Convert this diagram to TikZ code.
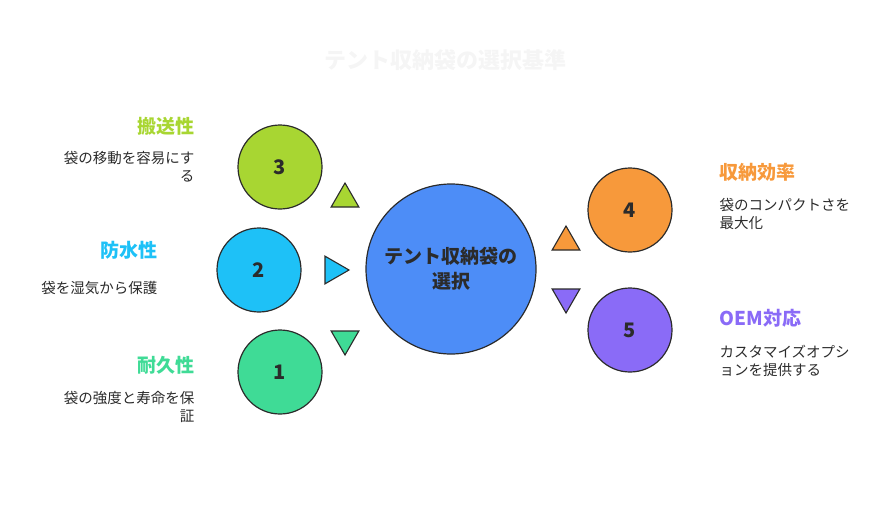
\documentclass[tikz,border=0pt]{standalone}
\usepackage{fontspec}
\setmainfont{Noto Sans CJK JP}
\usetikzlibrary{shapes.geometric}
\definecolor{cYel}{HTML}{A8D632}
\definecolor{cCya}{HTML}{1EC1F7}
\definecolor{cGrn}{HTML}{3FDB96}
\definecolor{cOra}{HTML}{F7993B}
\definecolor{cPur}{HTML}{8A6BF7}
\definecolor{cBlu}{HTML}{4D8DF7}
\definecolor{cInk}{HTML}{2B2B2B}
\tikzset{
  ball/.style={circle, draw=cInk, line width=1.2pt, minimum size=84pt, inner sep=0pt, font=\bfseries\fontsize{20}{20}\selectfont, text=cInk},
  tri/.style={regular polygon, regular polygon sides=3, draw=cInk, line width=1.1pt, minimum size=32pt, inner sep=0pt},
  head/.style={font=\bfseries\fontsize{19}{21}\selectfont},
  desc/.style={font=\fontsize{14.5}{18}\selectfont, text=cInk, align=left},
}
\begin{document}
\begin{tikzpicture}[x=1pt,y=-1pt]
\useasboundingbox (0,0) rectangle (890,530);
\node[font=\bfseries\fontsize{22}{22}\selectfont, text=black!4] (title) at (445,60) {テント収納袋の選択基準};
% circles
\node[ball, fill=cBlu, minimum size=170pt, font=\bfseries\fontsize{19}{25}\selectfont, align=center] (hub) at (451,269) {テント収納袋の\\選択};
\node[ball, fill=cYel] (c3) at (280,167) {3};
\node[ball, fill=cCya] (c2) at (259,270) {2};
\node[ball, fill=cGrn] (c1) at (280,372) {1};
\node[ball, fill=cOra] (c4) at (630,210) {4};
\node[ball, fill=cPur] (c5) at (630,330) {5};
% arrows
\node[tri, fill=cYel] (t3) at (345,199) {};
\node[tri, fill=cCya, shape border rotate=-90] (t2) at (333,270) {};
\node[tri, fill=cGrn, shape border rotate=180] (t1) at (345,339) {};
\node[tri, fill=cOra] (t4) at (566,242) {};
\node[tri, fill=cPur, shape border rotate=180] (t5) at (566,297) {};
% left labels
\node[head, text=cYel, anchor=east] (h3) at (198,126) {搬送性};
\node[desc, anchor=north east] (d3) at (198,148) {袋の移動を容易にす\\\hfill る};
\node[head, text=cCya, anchor=east] (h2) at (161,250) {防水性};
\node[desc, anchor=north east] (d2) at (161,278) {袋を湿気から保護};
\node[head, text=cGrn, anchor=east] (h1) at (198,365) {耐久性};
\node[desc, anchor=north east] (d1) at (198,388) {袋の強度と寿命を保\\\hfill 証};
% right labels
\node[head, text=cOra, anchor=west] (h4) at (716,172) {収納効率};
\node[desc, anchor=north west] (d4) at (716,195) {袋のコンパクトさを\\最大化};
\node[head, text=cPur, anchor=west] (h5) at (716,318) {OEM対応};
\node[desc, anchor=north west] (d5) at (716,342) {カスタマイズオプシ\\ョンを提供する};
\end{tikzpicture}
\end{document}
